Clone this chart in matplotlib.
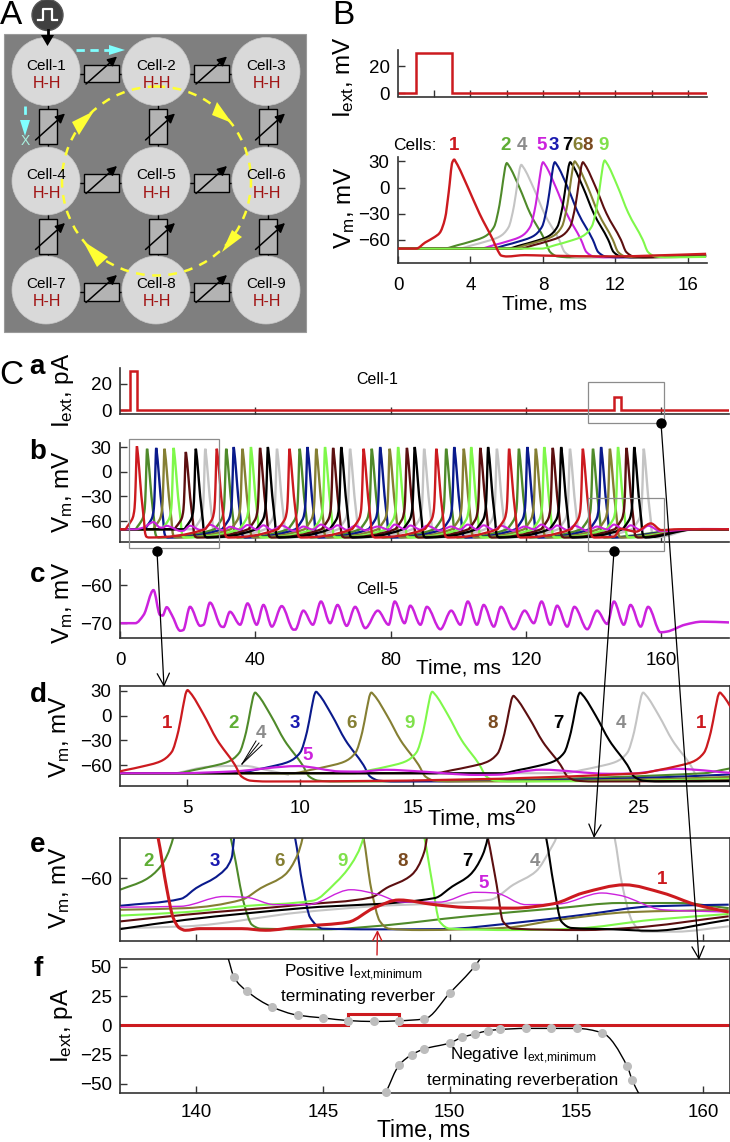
import numpy as np
import matplotlib
matplotlib.use('Agg')
import matplotlib.pyplot as plt
from matplotlib.path import Path
from matplotlib.patches import PathPatch, Circle, Rectangle, Polygon

plt.rcParams['font.family'] = ['Liberation Sans', 'DejaVu Sans']
plt.rcParams['mathtext.fontset'] = 'custom'
plt.rcParams['mathtext.rm'] = 'Liberation Sans'
plt.rcParams['mathtext.default'] = 'regular'

W, H = 730, 1142

colors = {1: '#cc1a1f', 2: '#4f8a2a', 3: '#0a1a8c', 4: '#c4c4c4', 5: '#cc22dd',
          6: '#857f33', 7: '#000000', 8: '#5c0f10', 9: '#7ff84a'}
label_colors = {1: '#cc1a1f', 2: '#5fae35', 3: '#1a1ab0', 4: '#8c8c8c', 5: '#cc22dd',
                6: '#857f33', 7: '#000000', 8: '#7a4a1f', 9: '#7fe04a'}

# spike shape (time from peak, mV)
spike_dt = [-3.5, -2.7, -2.0, -1.2, -0.7, -0.4, -0.2, -0.05, 0, 0.12, 0.7, 1.3, 2.1, 2.4, 2.8, 3.5]
spike_v = [-70, -66, -62, -56, -45, -20, 8, 26, 28, 25, 0, -30, -60, -74, -79, -80]

# panel B
b_pulse_t = [0, 1, 1, 3, 3, 17]
b_pulse_i = [0, 0, 30, 30, 0, 0]
b_cell1_t = [0, 1, 1.5, 2, 2.3, 2.6, 2.8, 3.0, 3.1, 3.2, 3.86, 4.5, 5.24, 5.5, 5.7, 6, 7, 8, 12, 14, 17]
b_cell1_v = [-70, -70, -63, -57, -52, -35, -5, 29, 32, 29, 0, -30, -60, -72, -78, -79, -77.5, -78, -79, -78, -76]
b_order = [2, 4, 5, 3, 7, 6, 8, 9]
b_peak = {2: 6.0, 4: 6.8, 5: 8.0, 3: 8.65, 7: 9.5, 6: 9.75, 8: 10.2, 9: 11.4}
b_height = {2: 28, 4: 26, 5: 29, 3: 29, 7: 29, 6: 30, 8: 29, 9: 31}
b_end_v = {2: -77, 4: -77.5, 5: -78, 3: -78, 7: -78, 6: -78.5, 8: -79, 9: -79.5}
b_labels_x = {1: 454, 2: 506, 4: 522, 5: 542, 3: 554, 7: 567, 6: 578, 8: 588, 9: 604}

# panel C a, b, c
ca_t = [0, 3, 3, 5, 5, 146, 146, 148, 148, 180]
ca_i = [0, 0, 30, 30, 0, 0, 10, 10, 0, 0]
peaks = {
    1: [5, 28.6, 50.1, 72, 93.5, 115, 136.8],
    2: [8, 31.4, 53.1, 74.4, 96.4, 117.9, 139.8],
    3: [10.7, 33.6, 55.4, 76.9, 98.8, 120.4, 142.2],
    6: [13.15, 36.2, 58, 79.7, 101.6, 122.9, 144.8],
    9: [15.85, 38.7, 60.6, 82.2, 103.8, 125.4, 147.2],
    8: [19.45, 41.4, 63, 84.8, 106.5, 127.9, 149.7],
    7: [22.4, 43.7, 65.4, 87.1, 108.8, 130.4, 152],
    4: [25.2, 46.4, 68, 89.9, 111.4, 133, 154.8],
}
heights = {
    1: [31, 28, 28, 28, 28, 28, 28],
    2: [28, 28, 28, 28, 28, 28, 28],
    3: [29, 30, 30, 30, 30, 30, 30],
    6: [28, 28, 28, 28, 28, 28, 28],
    9: [29, 30, 30, 30, 30, 30, 30],
    8: [24, 29, 29, 29, 29, 29, 29],
    7: [28, 30, 30, 30, 30, 30, 30],
    4: [28, 28, 28, 28, 28, 28, 28],
}
c_order = [4, 2, 3, 6, 9, 8, 7]
cell1_tail_t = [146, 148, 152.5, 156.9, 160, 165, 180]
cell1_tail_v = [-79, -69.4, -72.9, -62.9, -71, -70, -70]
other_tail_t = [170, 180]
other_tail_v = [-70, -70]
d_cell4_bump_t = [4.5, 6, 7.5, 8.5, 9.5]
d_cell4_bump_v = [-70, -62, -61, -66, -72]

cell5_t = [0, 4.5, 7, 9.9, 11.8, 12.6, 13.8, 15.3, 17.8, 18.7, 20.7, 23.7, 24.7, 26.6, 30, 30.6,
           32.5, 35.5, 37.7, 40.4, 42.4, 44.9, 47.8, 51.3, 51.8, 54.2, 57, 59.4, 62.1, 64.3, 67,
           69.5, 72.5, 76.2, 79.4, 81.2, 84.1, 85.8, 88.8, 90.7, 94.7, 97.9, 100.6, 102.8, 105.5,
           107.5, 110.5, 112.6, 116.4, 119.6, 122.3, 124.6, 127.2, 129.2, 132.2, 134.3, 138.1,
           141, 144, 146, 148.9, 150.9, 153.9, 156.1, 159.8, 161.7, 167, 172.1, 180]
cell5_v = [-70, -70, -67.8, -61.3, -67.8, -68, -65.8, -67.8, -72, -71.8, -65.7, -70.7, -70.4, -64.6,
           -70.9, -71, -67, -70.4, -64.8, -70.4, -65.2, -70.9, -65.5, -71.7, -71.7, -66.7, -70.4,
           -64.3, -70, -65.2, -70.7, -65.7, -71.3, -66.7, -70.4, -64.3, -70, -65.4, -70.4, -65.7,
           -71.6, -66.7, -70.4, -64.3, -70.4, -65.2, -70.9, -65.7, -71.6, -66.7, -70, -64.3, -70.4,
           -65.4, -70.9, -65.7, -71.6, -66.7, -70.2, -64.3, -70.4, -65.2, -70.9, -65.7, -72.4,
           -72.2, -70.4, -69.6, -69.8]

# panel e, read directly
e_traces = {
    4: ([137, 139.6, 144.2, 147, 151.6, 152.5, 153.4, 154, 154.2, 154.8, 156.5, 156.8, 157.2, 157.6, 158.9, 161],
        [-81.5, -80.7, -74.6, -72.1, -69.3, -62.9, -57.1, -47, -42.6, 28, -42.6, -62.9, -78.6, -83, -83, -80.7]),
    2: ([137, 138, 138.6, 139.1, 139.7, 141.45, 141.9, 142.2, 142.55, 145.1, 147, 150.7, 154.3, 156.7, 159, 161],
        [-65, -60.7, -55, -42.6, 28, -47, -71.4, -80, -81.7, -82, -80.7, -76.4, -72.9, -70.7, -70.7, -72.9]),
    3: ([137, 139.4, 140, 140.9, 141.4, 141.5, 142.2, 143.9, 144.2, 144.5, 145, 147, 149.7, 152.5, 155.3, 158, 161],
        [-71.9, -68.9, -64.3, -58.6, -51.4, -42.6, 29, -42.6, -62.9, -77, -81.7, -82, -81.9, -79.3, -75.7, -72.1, -71.4]),
    6: ([137, 139.6, 141.8, 142.55, 143.5, 144, 144.2, 144.8, 146.6, 146.9, 147.25, 147.6, 148.8, 152.1, 154.3, 157.1, 161],
        [-73.6, -72.9, -69.3, -64.3, -58.6, -50, -42.6, 28, -42.6, -64.3, -78.6, -81.7, -82.3, -81.4, -77.9, -74.6, -73.6]),
    9: ([137, 139.6, 141.8, 144.6, 145.5, 146.1, 146.6, 147.2, 149, 149.3, 149.6, 150, 152.5, 154.9, 158, 161],
        [-76.1, -74.6, -72.1, -69.7, -62, -54.3, -42.6, 30, -42.6, -61.4, -78.6, -81.7, -82.3, -81.7, -77.9, -75.4]),
    8: ([137, 139.6, 144.2, 146.9, 147.5, 148.5, 149, 149.1, 149.7, 151.5, 151.85, 152.1, 152.5, 155.3, 157.1, 161],
        [-78.6, -75.7, -71.4, -68.3, -64.3, -58.6, -48.6, -42.6, 29, -42.6, -62.9, -78.6, -81.7, -82.3, -81.4, -76.4]),
    7: ([137, 139.6, 144.2, 149.4, 150.1, 150.8, 151.3, 151.5, 152.1, 153.8, 154.1, 154.4, 154.8, 156.2, 158, 161],
        [-81.9, -77.9, -72.9, -68.6, -63.6, -58.6, -50, -42.6, 30, -42.6, -62.9, -78.6, -81.4, -81.9, -82.6, -77.9]),
}
e_cell5_t = [137, 139.4, 141.1, 142, 143.1, 144.4, 146.1, 147.2, 148.1, 149.6, 151, 151.8, 153, 154.3, 156, 156.7, 158.4, 161]
e_cell5_v = [-72.5, -72.1, -67.9, -68.3, -71.4, -71.4, -65, -67.1, -70.3, -70.3, -66.1, -66.4, -71.4, -71.1, -66.4, -67.4, -73.6, -74.6]
e_cell1_t = [136.8, 138.5, 138.84, 139.1, 139.34, 139.58, 140.16, 141.8, 142.74, 144.2, 146, 147, 148, 149.4, 150.65, 152.5, 154.1, 155.25, 156.9, 158.4, 159.7, 161]
e_cell1_v = [28, -42.6, -64.3, -77.1, -81.4, -82.4, -81.7, -81.7, -82.4, -80.7, -78.9, -72.9, -69.4, -71.4, -72.6, -72.9, -71, -66.4, -62.9, -66.4, -71.4, -74.6]

# panel f
f_stim_t = [137, 146, 146, 148, 148, 161]
f_stim_i = [0, 0, 10, 10, 0, 0]
pos_t = [141.5, 142, 143, 144, 145, 146, 147, 148, 149, 150, 151]
pos_i = [41, 29.4, 15.8, 8.8, 6.5, 4.2, 3.4, 4, 5.6, 27.7, 51]
pos_end_t = [141.27, 151.2]
pos_end_i = [57, 57]
neg_t = [147.5, 148, 148.5, 149, 150, 150.5, 151, 151.5, 152, 153, 154, 155, 156, 157, 157.2]
neg_i = [-56.5, -34, -25, -20, -15, -10, -7.3, -4.5, -3.4, -2.5, -2.5, -2.5, -6.2, -35, -47]
neg_end_t = [157.45]
neg_end_i = [-58]


def smooth_patch(t, v, color, lw, zorder=2):
    # monotone cubic through the read points, drawn as bezier segments
    t = np.asarray(t, dtype=float)
    v = np.asarray(v, dtype=float)
    dt = np.diff(t)
    s = np.diff(v) / dt
    m = np.zeros(len(t))
    m[0] = s[0]
    m[-1] = s[-1]
    for i in range(1, len(t) - 1):
        if s[i - 1] * s[i] > 0:
            w1 = 2 * dt[i] + dt[i - 1]
            w2 = dt[i] + 2 * dt[i - 1]
            m[i] = (w1 + w2) / (w1 / s[i - 1] + w2 / s[i])
    verts = [(t[0], v[0])]
    codes = [Path.MOVETO]
    for i in range(len(dt)):
        verts.append((t[i] + dt[i] / 3, v[i] + m[i] * dt[i] / 3))
        verts.append((t[i + 1] - dt[i] / 3, v[i + 1] - m[i + 1] * dt[i] / 3))
        verts.append((t[i + 1], v[i + 1]))
        codes += [Path.CURVE4] * 3
    return PathPatch(Path(verts, codes), fc='none', ec=color, lw=lw, zorder=zorder)


def train(cell_peaks, cell_heights, tail_t, tail_v):
    # spike shape placed at each read peak time
    t = [0.0]
    v = [-70.0]
    for p, h in zip(cell_peaks, cell_heights):
        for d, y in zip(spike_dt, spike_v):
            t.append(p + d)
            v.append(y + (h - 28) * max(0, y + 70) / 98)
    return t + list(tail_t), v + list(tail_v)


fig = plt.figure(figsize=(W / 100, H / 100), dpi=100)


def px_axes(l, t, r, b, xlim, ylim, box=False):
    ax = fig.add_axes([l / W, 1 - b / H, (r - l) / W, (b - t) / H])
    ax.set_xlim(*xlim)
    ax.set_ylim(*ylim)
    ax.patch.set_alpha(0)
    for k in ['top', 'right']:
        ax.spines[k].set_visible(box)
    for k in ax.spines:
        ax.spines[k].set_linewidth(1.2)
        ax.spines[k].set_color('#333333')
    ax.tick_params(axis='both', labelsize=13.5, direction='in', length=5, width=1, color='#333333')
    ax.tick_params(axis='y', pad=6)
    ax.tick_params(axis='x', pad=10)
    return ax


# ---------- panel B
ax = px_axes(398, 50, 707, 96.5, (0, 17.05), (-2.6, 32))
ax.plot(b_pulse_t, b_pulse_i, color=colors[1], lw=1.8, solid_joinstyle='miter')
ax.set_xticks(np.arange(2, 17, 2))
ax.set_xticklabels([])
ax.set_yticks([0, 20])

ax = px_axes(398, 157, 707, 263, (0, 17.05), (-86.5, 35))
for c in b_order:
    t, v = train([b_peak[c]], [b_height[c]], [17], [b_end_v[c]])
    ax.add_patch(smooth_patch(t, v, colors[c], 1.5))
ax.add_patch(smooth_patch(b_cell1_t, b_cell1_v, colors[1], 1.7, zorder=3))
ax.set_xticks([0, 4, 8, 12, 16])
ax.set_yticks([30, 0, -30, -60])

# ---------- panel C a
ax = px_axes(120, 368, 729, 414, (0, 180), (-3, 32))
ax.plot(ca_t, ca_i, color=colors[1], lw=1.8, solid_joinstyle='miter')
ax.set_xticks([40, 80, 120, 160])
ax.set_xticklabels([])
ax.set_yticks([0, 20])

# ---------- panel C b
ax = px_axes(120, 443, 729, 542, (0, 180), (-85.5, 35))
for c in c_order:
    t, v = train(peaks[c], heights[c], other_tail_t, other_tail_v)
    ax.add_patch(smooth_patch(t, v, colors[c], 1.7))
ax.add_patch(smooth_patch(cell5_t, cell5_v, colors[5], 1.5, zorder=3))
t, v = train(peaks[1], heights[1], cell1_tail_t, cell1_tail_v)
ax.add_patch(smooth_patch(t, v, colors[1], 1.7, zorder=4))
ax.set_xticks([40, 80, 120, 160])
ax.set_xticklabels([])
ax.set_yticks([30, 0, -30, -60])

# ---------- panel C c
ax = px_axes(120, 570, 729, 638, (0, 180), (-73.9, -56))
ax.add_patch(smooth_patch(cell5_t, cell5_v, colors[5], 1.8))
ax.set_xticks([0, 40, 80, 120, 160])
ax.set_yticks([-60, -70])

# ---------- panel C d
ax = px_axes(120, 686, 729.5, 786, (2.01, 29.03), (-85.5, 36), box=True)
ax.add_patch(smooth_patch(d_cell4_bump_t, d_cell4_bump_v, colors[4], 1.5))
for c in c_order:
    t, v = train(peaks[c], heights[c], other_tail_t, other_tail_v)
    ax.add_patch(smooth_patch(t, v, colors[c], 1.5))
ax.add_patch(smooth_patch(cell5_t, cell5_v, colors[5], 1.6, zorder=3))
t, v = train(peaks[1], heights[1], cell1_tail_t, cell1_tail_v)
ax.add_patch(smooth_patch(t, v, colors[1], 1.6, zorder=4))
ax.set_xticks([5, 10, 15, 20, 25])
ax.set_yticks([30, 0, -30, -60])

# ---------- panel C e
ax = px_axes(120, 838, 730, 941, (137, 161.05), (-87, -42.8), box=True)
for c in e_traces:
    ax.add_patch(smooth_patch(e_traces[c][0], e_traces[c][1], colors[c], 1.5))
ax.add_patch(smooth_patch(e_cell5_t, e_cell5_v, colors[5], 1.0, zorder=3))
ax.add_patch(smooth_patch(e_cell1_t, e_cell1_v, colors[1], 2.2, zorder=4))
ax.set_xticks([140, 145, 150, 155, 160])
ax.set_xticklabels([])
ax.set_yticks([-60])

# ---------- panel C f
ax = px_axes(120, 959, 730, 1093, (137, 161.05), (-57.7, 56.8), box=True)
ax.plot(f_stim_t, f_stim_i, color=colors[1], lw=2.2, solid_joinstyle='miter', zorder=2)
ax.add_patch(smooth_patch([pos_end_t[0]] + pos_t + [pos_end_t[1]], [pos_end_i[0]] + pos_i + [pos_end_i[1]], 'black', 1.0, zorder=3))
ax.add_patch(smooth_patch(neg_t + neg_end_t, neg_i + neg_end_i, 'black', 1.0, zorder=3))
ax.plot(pos_t, pos_i, 'o', color='#bdbdbd', ms=5.5, zorder=4, clip_on=False)
ax.plot(neg_t, neg_i, 'o', color='#bdbdbd', ms=5.5, zorder=4, clip_on=False)
ax.set_xticks([140, 145, 150, 155, 160])
ax.set_yticks([50, 25, 0, -25, -50])
ax.tick_params(axis='x', pad=8)

# ---------- everything placed by pixel: schematic, labels, connectors
ov = fig.add_axes([0, 0, 1, 1], zorder=10)
ov.set_xlim(0, W)
ov.set_ylim(H, 0)
ov.axis('off')

# schematic A
ov.add_patch(Rectangle((4, 34), 302, 298, fc='#7f7f7f', ec='#9a9a9a', lw=0.8, zorder=1))
col_x = [46, 156, 266]
row_y = [71.5, 181, 290]
ring = Circle((156.5, 181), 94.5, fc='none', ec='#ffff33', lw=1.8, ls=(0, (3.5, 3)), zorder=4)
for i, y in enumerate(row_y):
    for j, x in enumerate(col_x):
        ov.add_patch(Circle((x, y), 34, fc='#d9d9d9', ec='#c8c8c8', lw=0.5, zorder=2))
        ov.text(x, y - 6, 'Cell-%d' % (3 * i + j + 1), ha='center', va='center', fontsize=11, zorder=6)
        ov.text(x + 1, y + 12, 'H-H', ha='center', va='center', fontsize=11.5, color='#a01010', zorder=6)
ov.add_patch(ring)
for y in row_y:
    for x in col_x[:2]:
        cx = x + 55
        ov.plot([cx - 22, cx + 22], [y + 2, y + 2], color='black', lw=1, zorder=1.5)
        ov.add_patch(Rectangle((cx - 17.5, y - 7), 35, 17.5, fc='#b3b3b3', ec='black', lw=1, zorder=3))
        ov.annotate('', xy=(cx + 16, y - 15), xytext=(cx - 15, y + 12.5), zorder=5,
                    arrowprops=dict(arrowstyle='-|>', color='black', lw=1.1, mutation_scale=14, shrinkA=0, shrinkB=0))
for x in col_x:
    for y in row_y[:2]:
        cy = y + 55
        ov.plot([x + 2, x + 2], [cy - 22, cy + 22], color='black', lw=1, zorder=1.5)
        ov.add_patch(Rectangle((x - 7, cy - 17.5), 17.5, 35, fc='#b3b3b3', ec='black', lw=1, zorder=3))
        ov.annotate('', xy=(x + 19, cy - 13), xytext=(x - 10.5, cy + 13.5), zorder=5,
                    arrowprops=dict(arrowstyle='-|>', color='black', lw=1.1, mutation_scale=14, shrinkA=0, shrinkB=0))
for tri in [[(94, 111), (72, 122), (79, 135)], [(232, 123), (217, 102), (212, 115)],
            [(222, 252), (232, 230), (242, 237)], [(83, 241), (97, 267), (108, 257)]]:
    ov.add_patch(Polygon(tri, fc='#ffff33', ec='none', zorder=5))
ov.plot([76, 112], [50, 50], color='#80ffff', lw=2, ls=(0, (3, 2)), zorder=5)
ov.add_patch(Polygon([(125, 50), (109, 45), (109, 55)], fc='#80ffff', ec='none', zorder=5))
ov.plot([25, 25], [106, 122], color='#80ffff', lw=2, ls=(0, (3, 2)), zorder=5)
ov.add_patch(Polygon([(25, 136), (20, 120), (30, 120)], fc='#80ffff', ec='none', zorder=5))
ov.text(25, 141, 'X', ha='center', va='center', fontsize=10, color='#a8f0e0', zorder=5)
ov.add_patch(Circle((47.5, 15), 15.5, fc='#404040', ec='#555555', zorder=5))
ov.plot([38, 43, 43, 52, 52, 57], [20, 20, 9, 9, 20, 20], color='white', lw=1.6, zorder=6)
ov.plot([47.5, 47.5], [30, 37], color='black', lw=2, zorder=6)
ov.add_patch(Polygon([(47.5, 46), (41, 35), (54, 35)], fc='black', ec='none', zorder=6))

# panel letters
for s, x, y in [('A', 11, 15), ('B', 343, 15), ('C', 11, 376)]:
    ov.text(x, y, s, ha='center', va='center', fontsize=24)
for s, x, y in [('a', 37, 367), ('b', 38, 452), ('c', 38, 575), ('d', 38, 695), ('e', 38, 845), ('f', 38, 969)]:
    ov.text(x, y, s, ha='center', va='center', fontsize=20, fontweight='bold')

# axis titles
iext = r'I$_{ext}$, '
vm = r'V$_{m}$, mV'
for s, x, y in [(iext + 'mV', 344, 77), (vm, 345, 208), (iext + 'pA', 63, 390), (vm, 63, 492),
                (vm, 63, 603), (vm, 60, 737), (vm, 60, 888), (iext + 'pA', 62, 1025)]:
    ov.text(x, y, s, ha='center', va='center', rotation=90, fontsize=17.5)
for x, y, fs in [(545, 304, 15), (458, 668, 15), (472, 820, 15.5), (424, 1131, 16.5)]:
    ov.text(x, y, 'Time, ms', ha='center', va='center', fontsize=fs)

# cell labels
ov.text(415, 145, 'Cells:', ha='center', va='center', fontsize=12.5)
for c in b_labels_x:
    ov.text(b_labels_x[c], 145, str(c), ha='center', va='center', fontsize=13.5, fontweight='bold', color=label_colors[c])
ov.text(377, 380, 'Cell-1', ha='center', va='center', fontsize=11.5)
ov.text(377, 590, 'Cell-5', ha='center', va='center', fontsize=11.5)
for c, x, y in [(1, 167, 723), (2, 234, 723), (3, 295, 723), (6, 352, 723), (9, 410, 723), (8, 493, 723),
                (7, 558, 723), (4, 621, 723), (1, 701, 723), (4, 261, 734), (5, 308, 756),
                (2, 149, 861), (3, 215, 861), (6, 280, 861), (9, 343, 861), (8, 403, 861),
                (7, 467, 861), (4, 535, 861), (5, 484, 883), (1, 662, 879)]:
    ov.text(x, y, str(c), ha='center', va='center', fontsize=13.5, fontweight='bold', color=label_colors[c])
for s, x, y in [(r'Positive I$_{ext{,}minimum}$', 353, 973), ('terminating reverber', 358, 997),
                (r'Negative I$_{ext{,}minimum}$', 523, 1056), ('terminating reverberation', 523, 1081)]:
    ov.text(x, y, s, ha='center', va='center', fontsize=12.3)

# zoom boxes and connectors
for x0, y0, x1, y1 in [(129, 439, 219, 548), (588, 382, 664, 423), (588, 498, 664, 551)]:
    ov.add_patch(Rectangle((x0, y0), x1 - x0, y1 - y0, fc='none', ec='#8c8c8c', lw=0.9))
for (x0, y0), (x1, y1) in [((157, 551), (164, 687)), ((614, 551), (594, 838)), ((661, 423), (699, 960))]:
    ov.plot([x0], [y0], 'o', color='black', ms=6.5)
    ov.annotate('', xy=(x1, y1), xytext=(x0, y0),
                arrowprops=dict(arrowstyle='->', color='black', lw=0.9, mutation_scale=22, shrinkA=0, shrinkB=0))
ov.annotate('', xy=(377.5, 930), xytext=(377, 955),
            arrowprops=dict(arrowstyle='->', color=colors[1], lw=1, mutation_scale=16, shrinkA=0, shrinkB=0))
for x0, y0 in [(259, 743), (262, 745), (256, 741)]:
    ov.plot([x0, 242], [y0, 764], color='black', lw=0.7)

fig.savefig('out.png', dpi=100)
